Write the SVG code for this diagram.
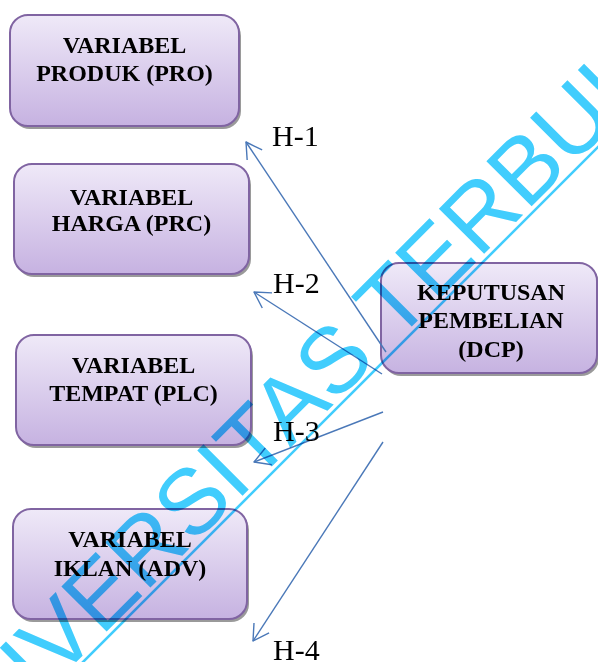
<svg xmlns="http://www.w3.org/2000/svg" width="598" height="662" viewBox="0 0 598 662">
<defs>
<linearGradient id="g" x1="0" y1="0" x2="0" y2="1">
<stop offset="0" stop-color="#efe9f8"/>
<stop offset="1" stop-color="#c6b2e1"/>
</linearGradient>
<marker id="ah" viewBox="-1 -11 20 22" markerWidth="20" markerHeight="22" refX="15.6" refY="0" orient="auto" markerUnits="userSpaceOnUse" overflow="visible">
<path d="M0,-9 L15.6,0 L0,9" fill="none" stroke="#4a78b8" stroke-width="1.4" stroke-linejoin="round"/>
</marker>
</defs>
<style>
.shadow{fill:#9a9a9a}
.box{fill:url(#g);stroke:#8064a2;stroke-width:2}
.bt{font-family:"Liberation Serif","Times New Roman",serif;font-weight:bold;font-size:24px;text-anchor:middle;fill:#000}
.lbl{font-family:"Liberation Serif","Times New Roman",serif;font-size:30px;fill:#000}
.conn{stroke:#4a78b8;stroke-width:1.4;fill:none;marker-end:url(#ah)}
.wm{font-family:"Liberation Sans",Arial,sans-serif;font-size:93px;fill:#41cdfd}
</style>
<g id="node-pro">
<rect class="shadow" x="12" y="18" width="229" height="111" rx="18"/>
<rect class="box" x="10" y="15" width="229" height="111" rx="18"/>
<text class="bt" x="124.5" y="53">VARIABEL</text>
<text class="bt" x="124.5" y="81">PRODUK (PRO)</text>
</g>
<g id="node-prc">
<rect class="shadow" x="16" y="167" width="235" height="110" rx="18"/>
<rect class="box" x="14" y="164" width="235" height="110" rx="18"/>
<text class="bt" x="131.5" y="205">VARIABEL</text>
<text class="bt" x="131.5" y="231">HARGA (PRC)</text>
</g>
<g id="node-plc">
<rect class="shadow" x="18" y="338" width="235" height="110" rx="18"/>
<rect class="box" x="16" y="335" width="235" height="110" rx="18"/>
<text class="bt" x="133.5" y="373">VARIABEL</text>
<text class="bt" x="133.5" y="401">TEMPAT (PLC)</text>
</g>
<g id="node-adv">
<rect class="shadow" x="15" y="512" width="234" height="110" rx="18"/>
<rect class="box" x="13" y="509" width="234" height="110" rx="18"/>
<text class="bt" x="130" y="547">VARIABEL</text>
<text class="bt" x="130" y="576">IKLAN (ADV)</text>
</g>
<g id="node-dcp">
<rect class="shadow" x="383" y="266" width="216" height="110" rx="18"/>
<rect class="box" x="381" y="263" width="216" height="110" rx="18"/>
<text class="bt" x="491" y="300">KEPUTUSAN</text>
<text class="bt" x="491" y="328">PEMBELIAN</text>
<text class="bt" x="491" y="357">(DCP)</text>
</g>
<g id="connectors">
<line class="conn" x1="386" y1="352" x2="246" y2="142"/>
<line class="conn" x1="382" y1="374" x2="254" y2="292"/>
<line class="conn" x1="383" y1="412" x2="254" y2="462"/>
<line class="conn" x1="383" y1="442" x2="253" y2="641"/>
</g>
<g id="labels">
<text class="lbl" x="272" y="146">H-1</text>
<text class="lbl" x="273" y="293">H-2</text>
<text class="lbl" x="273" y="441">H-3</text>
<text class="lbl" x="273" y="660">H-4</text>
</g>
<g id="watermark" style="mix-blend-mode:multiply">
<text class="wm" transform="rotate(-45)" x="-601" y="522">UNIVERSITAS TERBUKA</text>
<line x1="60" y1="685" x2="640" y2="105" stroke="#41cdfd" stroke-width="2.6"/>
</g>
</svg>
